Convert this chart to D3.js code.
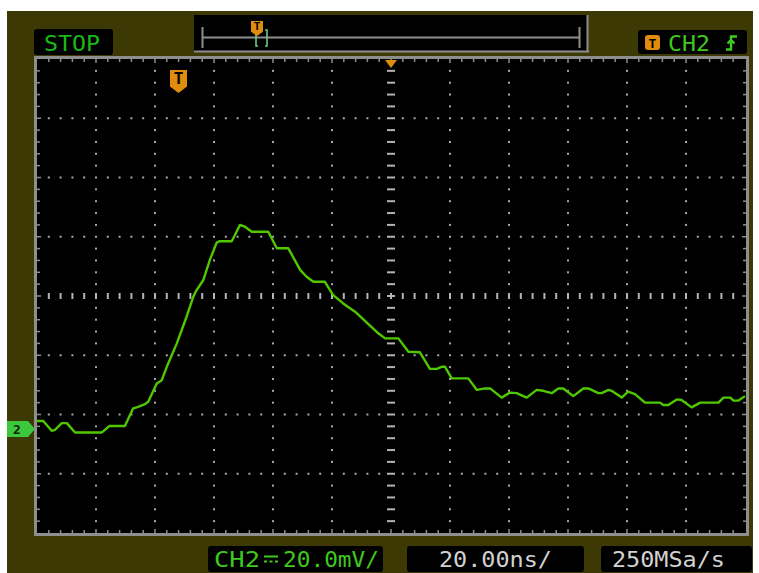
<!DOCTYPE html>
<html><head><meta charset="utf-8">
<script src="https://cdn.jsdelivr.net/npm/d3@7"></script>
<style>html,body{margin:0;padding:0;background:#fff;}svg{display:block;}</style>
</head><body>
<svg id="c" width="759" height="573"></svg>
<script>
// ---- data ----
const timeNs = [-120,-117.9,-115.0,-113.9,-111.6,-109.9,-107.1,-98.1,-95.5,-90.2,-87.4,-85.7,-83.4,-82.3,-79.4,-77.7,-76.0,-72.6,-69.3,-67.0,-65.9,-63.6,-61.4,-59.1,-58.0,-54.0,-52.9,-51.2,-49.5,-47.2,-41.6,-38.7,-34.8,-30.8,-28.6,-26.3,-22.4,-19.6,-16.2,-12.2,-4.3,-2.0,2.5,5.9,9.8,13.2,15.5,17.2,18.3,20.6,26.2,29.1,31.9,33.6,37.5,40.3,42.6,46.0,49.4,51.6,54.5,56.7,58.4,61.8,65.2,66.9,70.3,71.4,73.7,74.8,78.2,80.4,82.7,86.1,91.2,92.3,94.0,96.9,98.5,101.9,104.8,111.0,112.7,115.0,116.1,117.8,120];
const ch2mV = [2.7,2.7,-0.6,-0.3,2.0,2.0,-1.2,-1.2,1.0,1.0,7.0,7.5,8.4,9.2,15.4,16.5,21.0,28.9,37.9,44.7,46.9,50.3,57.1,62.9,63.4,63.4,65.5,68.9,68.3,66.6,66.6,61.0,61.0,53.7,51.4,49.7,49.7,45.2,42.4,39.6,32.3,30.6,30.6,26.1,25.9,20.3,20.3,21.0,21.0,17.1,17.1,13.2,13.7,13.7,10.6,12.3,12.1,10.6,13.2,12.9,12.1,13.7,13.7,11.1,13.7,13.7,12.1,12.1,13.2,12.9,10.6,12.6,11.8,8.9,8.9,8.1,8.1,10.0,9.8,7.3,8.9,8.9,10.6,10.6,9.6,9.6,11.1];
const statusLabel = "STOP";
const trigLabel = "CH2";
const voltLabelA = "CH2";
const voltLabelB = "20.0mV/";
const timeLabel = "20.00ns/";
const rateLabel = "250MSa/s";
const chanMarker = "2";
const nsPerDiv = 20, mVPerDiv = 20, groundDiv = -2.245, hDivs = 12, vDivs = 8, minor = 5;

// ---- layout ----
const svg = d3.select("#c");
const L = 37, R = 745, T = 59, B = 533;
const x = d3.scaleLinear().domain([-hDivs/2*nsPerDiv, hDivs/2*nsPerDiv]).range([L, R]);
const y = d3.scaleLinear().domain([(-vDivs/2 - groundDiv)*mVPerDiv, (vDivs/2 - groundDiv)*mVPerDiv]).range([B, T]);
const gx = d3.scaleLinear().domain([0, hDivs]).range([L, R]);
const gy = d3.scaleLinear().domain([0, vDivs]).range([T, B]);

const OLIVE = "#3d3905", GRAY = "#8e8e8e", DOT = "#a8a8a8", ORANGE = "#e08c0c", GREEN = "#50c800";
const MONO = "'DejaVu Sans Mono', 'Liberation Mono', monospace";

svg.append("rect").attr("x",7).attr("y",11).attr("width",746).attr("height",562).attr("fill",OLIVE);

// top status bar
svg.append("rect").attr("x",194).attr("y",15).attr("width",394).attr("height",37).attr("fill","#000");
svg.append("line").attr("x1",194).attr("x2",589).attr("y1",51.5).attr("y2",51.5).attr("stroke",GRAY).attr("stroke-width",2);
svg.append("line").attr("x1",587.5).attr("x2",587.5).attr("y1",15).attr("y2",52).attr("stroke",GRAY).attr("stroke-width",2);
svg.append("line").attr("x1",202).attr("x2",580).attr("y1",37.5).attr("y2",37.5).attr("stroke",GRAY).attr("stroke-width",2);
svg.append("line").attr("x1",202.5).attr("x2",202.5).attr("y1",27).attr("y2",48).attr("stroke",GRAY).attr("stroke-width",2);
svg.append("line").attr("x1",579.5).attr("x2",579.5).attr("y1",27).attr("y2",48).attr("stroke",GRAY).attr("stroke-width",2);
// bracket
svg.append("path").attr("d","M258,30 L256,30 L256,46 L258,46 M265,30 L267,30 L267,46 L265,46")
  .attr("fill","none").attr("stroke","#6fc77f").attr("stroke-width",1.6);
// small T marker in bar
function tMarker(cx, top, w, h, fs){
  const g = svg.append("g");
  g.append("path").attr("d",`M${cx-w/2},${top} L${cx+w/2},${top} L${cx+w/2},${top+h*0.72} L${cx},${top+h} L${cx-w/2},${top+h*0.72} Z`)
    .attr("fill",ORANGE);
  g.append("text").attr("x",cx).attr("y",top+h*0.62).attr("text-anchor","middle").attr("font-family",MONO)
    .attr("font-weight","bold").attr("font-size",fs).attr("fill","#000").text("T");
}
tMarker(257, 21, 12, 15, 11);

// STOP box
svg.append("rect").attr("x",34).attr("y",29).attr("width",79).attr("height",26).attr("rx",3).attr("fill","#000");
svg.append("text").attr("x",44).attr("y",51).attr("font-family",MONO).attr("font-size",21).attr("fill","#19b919")
  .attr("textLength",56).attr("lengthAdjust","spacingAndGlyphs").text(statusLabel);

// CH2 trigger box
svg.append("rect").attr("x",638).attr("y",30).attr("width",109).attr("height",24).attr("rx",3).attr("fill","#000");
svg.append("rect").attr("x",645).attr("y",35).attr("width",15).attr("height",15).attr("rx",3).attr("fill",ORANGE);
svg.append("text").attr("x",652.5).attr("y",47.5).attr("text-anchor","middle").attr("font-family",MONO).attr("font-weight","bold")
  .attr("font-size",13).attr("fill","#000").text("T");
svg.append("text").attr("x",668).attr("y",50.5).attr("font-family",MONO).attr("font-size",21).attr("fill","#3fc81e")
  .attr("textLength",42).attr("lengthAdjust","spacingAndGlyphs").text(trigLabel);
svg.append("path").attr("d","M726,49.5 L731,49.5 L731,36.5 L737,36.5 M727.5,43.5 L731,40 L734.5,43.5")
  .attr("fill","none").attr("stroke","#3fc81e").attr("stroke-width",2.4);

// plot area
svg.append("rect").attr("x",L).attr("y",T).attr("width",R-L+1).attr("height",B-T).attr("fill","#000");

// dotted grid
const dots = svg.append("g").attr("fill",DOT);
for (let i = 1; i < hDivs; i++) {
  if (i === hDivs/2) continue;
  for (let j = 1; j < vDivs*minor; j++) {
    dots.append("rect").attr("x",gx(i)-1).attr("y",gy(j/minor)-1).attr("width",2).attr("height",2);
  }
}
for (let k = 1; k < vDivs; k++) {
  if (k === vDivs/2) continue;
  for (let j = 1; j < hDivs*minor; j++) {
    if (j % minor === 0) continue;
    dots.append("rect").attr("x",gx(j/minor)-1).attr("y",gy(k)-1).attr("width",2).attr("height",2);
  }
}
// center axes
const ctr = svg.append("g").attr("fill","#b4b4b4");
for (let j = 1; j < hDivs*minor; j++) {
  ctr.append("rect").attr("x",gx(j/minor)-1).attr("y",gy(vDivs/2)-3).attr("width",2).attr("height",6);
}
for (let j = 1; j < vDivs*minor; j++) {
  ctr.append("rect").attr("x",gx(hDivs/2)-4).attr("y",gy(j/minor)-1).attr("width",8).attr("height",2);
}
// border ticks
const tk = svg.append("g").attr("stroke",GRAY).attr("stroke-width",1.5);
for (let j = 1; j < hDivs*minor; j++) {
  const len = j % minor === 0 ? 4 : 3;
  tk.append("line").attr("x1",gx(j/minor)).attr("x2",gx(j/minor)).attr("y1",T).attr("y2",T+len);
  tk.append("line").attr("x1",gx(j/minor)).attr("x2",gx(j/minor)).attr("y1",B).attr("y2",B-len);
}
for (let j = 1; j < vDivs*minor; j++) {
  const len = j % minor === 0 ? 4 : 3;
  tk.append("line").attr("y1",gy(j/minor)).attr("y2",gy(j/minor)).attr("x1",L).attr("x2",L+len);
  tk.append("line").attr("y1",gy(j/minor)).attr("y2",gy(j/minor)).attr("x1",R+1).attr("x2",R+1-len);
}
svg.append("rect").attr("x",L-1.5).attr("y",T-1.5).attr("width",R-L+4).attr("height",B-T+3)
  .attr("fill","none").attr("stroke",GRAY).attr("stroke-width",3);

// trigger position markers
svg.append("path").attr("d",`M${gx(hDivs/2)-6},${T+1} L${gx(hDivs/2)+6},${T+1} L${gx(hDivs/2)},${T+9} Z`).attr("fill",ORANGE);
tMarker(178.5, 70, 17, 23, 16);

// waveform
const pts = timeNs.map((t,i)=>[t, ch2mV[i]]);
svg.append("path").datum(pts)
  .attr("d", d3.line().x(d=>x(d[0])).y(d=>y(d[1])))
  .attr("fill","none").attr("stroke",GREEN).attr("stroke-width",2.4).attr("stroke-linejoin","round");

// channel ground marker
const gY = y(0);
svg.append("path").attr("d",`M7,${gY-8} L28,${gY-8} L35,${gY} L28,${gY+8} L7,${gY+8} Z`).attr("fill","#3cc83c");
svg.append("text").attr("x",17).attr("y",gY+5).attr("text-anchor","middle").attr("font-family",MONO).attr("font-weight","bold")
  .attr("font-size",13).attr("fill","#102010").text(chanMarker);

// bottom boxes
function box(x0, w){ svg.append("rect").attr("x",x0).attr("y",546).attr("width",w).attr("height",26).attr("rx",3).attr("fill","#000"); }
box(208, 175); box(407, 177); box(601, 151);
svg.append("text").attr("x",214).attr("y",567).attr("font-family",MONO).attr("font-size",21).attr("fill","#3fc81e")
  .attr("textLength",46).attr("lengthAdjust","spacingAndGlyphs").text(voltLabelA);
svg.append("path").attr("d","M264,556.5 L278,556.5 M264,561.5 L267,561.5 M269.5,561.5 L272.5,561.5 M275,561.5 L278,561.5")
  .attr("fill","none").attr("stroke","#3fc81e").attr("stroke-width",2);
svg.append("text").attr("x",283).attr("y",567).attr("font-family",MONO).attr("font-size",21).attr("fill","#3fc81e")
  .attr("textLength",96).attr("lengthAdjust","spacingAndGlyphs").text(voltLabelB);
svg.append("text").attr("x",439).attr("y",567).attr("font-family",MONO).attr("font-size",21).attr("fill","#d2d2d2")
  .attr("textLength",113).attr("lengthAdjust","spacingAndGlyphs").text(timeLabel);
svg.append("text").attr("x",612).attr("y",567).attr("font-family",MONO).attr("font-size",21).attr("fill","#d2d2d2")
  .attr("textLength",113).attr("lengthAdjust","spacingAndGlyphs").text(rateLabel);
</script>
</body></html>
